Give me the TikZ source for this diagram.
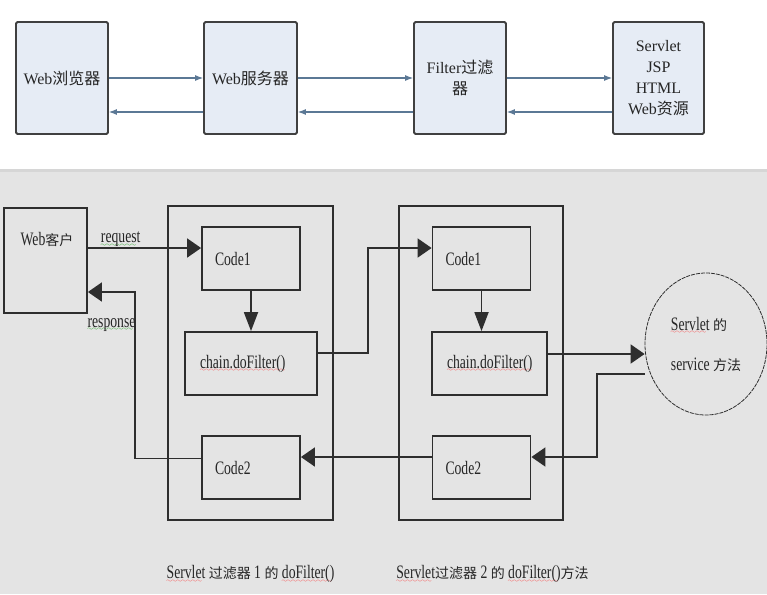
\documentclass[tikz,border=0pt]{standalone}
\usepackage{fontspec}
\setmainfont{Liberation Serif}
\newfontfamily\narrowfont[FakeStretch=0.72]{Liberation Serif}
\newfontfamily\cjk{Noto Sans CJK SC}
\usetikzlibrary{arrows.meta,positioning,shapes.geometric}

\definecolor{boxfill}{HTML}{E6ECF5}
\definecolor{topline}{HTML}{5B7895}
\definecolor{bggray}{HTML}{E4E4E4}
\definecolor{stripgray}{HTML}{D6D6D6}
\definecolor{linegray}{HTML}{2E2E2E}

\newcommand\zh[1]{{\cjk\fontsize{14}{16}\selectfont #1}}
% spell-check style wavy underlines
\font\wavefont=lasy6
\newsavebox\wavebox
\newcommand\wavy[2]{\sbox\wavebox{#2}\rlap{\textcolor{#1}{\lower3.5pt\hbox to\wd\wavebox{\leaders\hbox{\wavefont\char58}\hfill}}}\usebox\wavebox}
\newcommand\redwave[1]{\wavy{red!80}{#1}}
\newcommand\greenwave[1]{\wavy{green!60!black}{#1}}

\tikzset{
  webbox/.style={draw=black!75, line width=1.8pt, fill=boxfill, rounded corners=1.5pt, minimum width=92pt, minimum height=112pt, inner sep=2pt, align=center, text=black!85, font=\fontsize{16}{21}\selectfont},
  webarrow/.style={draw=topline, line width=1.1pt, -{Latex[length=8pt,width=6pt]}},
  frame/.style={draw=linegray, line width=1.8pt, minimum width=165pt, minimum height=314pt, inner sep=0pt},
  codebox/.style={draw=linegray, line width=1.8pt, minimum height=63pt, align=left, inner xsep=13pt, text=black!85, font=\narrowfont\fontsize{19}{22}\selectfont},
  note/.style={text=black!85, font=\narrowfont\fontsize{19}{22}\selectfont},
  flow/.style={draw=linegray, line width=1.8pt, -{Triangle[length=14pt,width=19pt]}},
  downflow/.style={draw=linegray, line width=1.8pt, -{Triangle[length=19pt,width=14pt]}}
}

\begin{document}
\begin{tikzpicture}[x=1pt,y=-1pt]

\fill[white] (0,0) rectangle (767,169);
\fill[bggray] (0,169) rectangle (767,594);
\fill[stripgray] (0,169) rectangle (767,172);
\useasboundingbox (0,0) rectangle (767,594);

% browser -> server -> filter -> resources
\node[webbox] (browser) at (62,78) {Web{\cjk 浏览器}};
\node[webbox, minimum width=93pt] (webserver) at (250.5,78) {Web{\cjk 服务器}};
\node[webbox] (filter) at (460,78) {Filter{\cjk 过滤}\\{\cjk 器}};
\node[webbox, minimum width=91pt] (resource) at (658.5,78) {Servlet\\JSP\\HTML\\Web{\cjk 资源}};

\draw[webarrow] (browser.east) -- (webserver.west);
\draw[webarrow] (webserver.east) -- (filter.west);
\draw[webarrow] (filter.east) -- (resource.west);
\draw[webarrow] ([yshift=-34pt]resource.west) -- ([yshift=-34pt]filter.east);
\draw[webarrow] ([yshift=-34pt]filter.west) -- ([yshift=-34pt]webserver.east);
\draw[webarrow] ([yshift=-34pt]webserver.west) -- ([yshift=-34pt]browser.east);

% client and the two filter chains
\node[draw=linegray, line width=1.8pt, minimum width=83pt, minimum height=105pt, label={[note, anchor=west, xshift=14pt, yshift=-32pt]north west:Web\zh{客户}}] (client) at (45.5,260.5) {};

\node[frame] (fbox1) at (250.5,363) {};
\node[frame, minimum width=164pt] (fbox2) at (481,363) {};

\node[codebox, text width=72pt] (code1a) at (251,258.5) {Code1};
\node[codebox, text width=102pt, inner xsep=15pt] (chain1) at (251,363.5) {\redwave{chain.doFilter()}};
\node[codebox, text width=72pt] (code2a) at (251,467.5) {Code2};

\node[codebox, text width=72pt] (code1b) at (481.5,258.5) {Code1};
\node[codebox, text width=85pt, inner xsep=15pt] (chain2) at (489.5,363.5) {\redwave{chain.doFilter()}};
\node[codebox, text width=72pt] (code2b) at (481.5,467.5) {Code2};

\node[ellipse, draw=linegray, line width=0.8pt, dash pattern=on 4pt off 1pt, minimum width=122pt, minimum height=142pt, inner sep=0pt, align=left, note] (service) at (706,344) {\redwave{Servlet} \zh{的}\\[18pt]service \zh{方法}};

\node[note, below=41pt of fbox1] (label1) {\redwave{Servlet} \zh{过滤器} 1 \zh{的} \redwave{doFilter()}};
\node[note, below=41pt of fbox2, xshift=11.5pt] (label2) {\redwave{Servlet}\zh{过滤器} 2 \zh{的} \redwave{doFilter()}\zh{方法}};

% request path
\draw[flow] ([yshift=12.5pt]client.east) -- node[note, pos=0.29, above=-3pt] (request) {\greenwave{request}} ([yshift=10.5pt]code1a.west);
\draw[downflow] (code1a.south) -- (chain1.north);
\draw[flow] ([yshift=10.5pt]chain1.east) -- ++(50,0) |- ([yshift=10.5pt]code1b.west);
\draw[downflow] (code1b.south) -- (code1b.south |- chain2.north);
\coordinate (svcin) at ([yshift=9.5pt]chain2.east);
\draw[flow] (svcin) -- (svcin -| service.west);

% response path
\draw[flow] ([yshift=-30pt]service.west) -- ++(-48,0) |- ([yshift=10.5pt]code2b.east);
\draw[flow] ([yshift=10.5pt]code2b.west) -- ([yshift=10.5pt]code2a.east);
\draw[flow] ([yshift=9pt]code2a.west) -- ++(-66,0) |- node[note, pos=0.75, below=22pt] (response) {\greenwave{response}} ([yshift=-31.5pt]client.east);

\end{tikzpicture}
\end{document}
